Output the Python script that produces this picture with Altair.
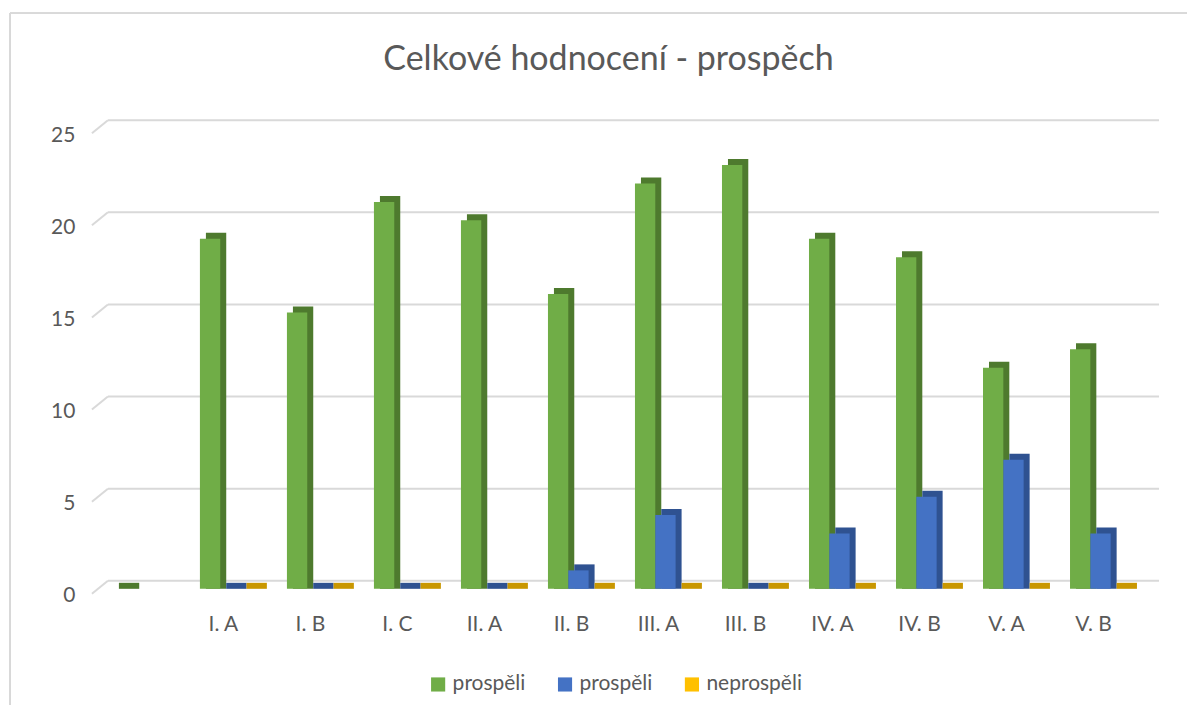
import altair as alt
import pandas as pd

# ---- data ----
categories = ["", "I. A", "I. B", "I. C", "II. A", "II. B", "III. A", "III. B",
              "IV. A", "IV. B", "V. A", "V. B"]
series_keys = ["prospěli", "prospěli (2)", "neprospěli"]
prospeli = [0, 19, 15, 21, 20, 16, 22, 23, 19, 18, 12, 13]
prospeli_2 = [None, 0, 0, 0, 0, 1, 4, 0, 3, 5, 7, 3]
neprospeli = [None, 0, 0, 0, 0, 0, 0, 0, 0, 0, 0, 0]
y_ticks = [0, 5, 10, 15, 20, 25]
title_text = "Celkové hodnocení - prospěch"

front_colors = ["#70ad47", "#4472c4", "#ffc000"]
dark_colors = ["#4e7a2e", "#2f5291", "#c99700"]

rows = []
for key, vals in zip(series_keys, [prospeli, prospeli_2, neprospeli]):
    for c, v in zip(categories, vals):
        if v is not None:
            rows.append({"cat": c, "series": key, "value": v})
df = pd.DataFrame(rows)
grid_df = pd.DataFrame({"v": y_ticks})
title_df = pd.DataFrame({"t": [title_text]})

W, H = 1045, 461
FONT = "Lato"
TXT = "#595959"
FS = 21

yscale = alt.Scale(domain=[0, 25], nice=False, zero=True)
yaxis = alt.Axis(title=None, values=y_ticks, grid=False, domain=False,
                 ticks=False, tickSize=0, labelPadding=18, labelOffset=7,
                 labelFontSize=FS, labelColor=TXT, labelFont=FONT)
xenc = alt.X("cat:N", sort=categories,
             scale=alt.Scale(domain=categories, paddingInner=0, paddingOuter=0),
             axis=alt.Axis(title=None, domain=False, ticks=False, tickSize=0,
                           labelAngle=0, labelPadding=25, labelFontSize=FS,
                           labelColor=TXT, labelFont=FONT))

# frame lines (decoration)
frame_top = alt.Chart(grid_df).mark_rule(color="#d9d9d9", strokeWidth=1.5).encode(
    x=alt.value(-83), x2=alt.value(1110), y=alt.value(-115))
frame_left = alt.Chart(grid_df).mark_rule(color="#d9d9d9", strokeWidth=1.5).encode(
    x=alt.value(-83), y=alt.value(-115), y2=alt.value(H + 130))

title = alt.Chart(title_df).mark_text(fontSize=34, font=FONT, color=TXT,
                                      baseline="alphabetic", align="center").encode(
    text="t:N", x=alt.value(516), y=alt.value(-58))

grid = alt.Chart(grid_df).mark_rule(color="#d9d9d9", strokeWidth=2, yOffset=-8).encode(
    y=alt.Y("v:Q", scale=yscale, axis=yaxis),
    x=alt.value(15), x2=alt.value(1067))
stubs = alt.Chart(grid_df).mark_rule(color="#d9d9d9", strokeWidth=2,
                                      yOffset=5, y2Offset=-8).encode(
    y=alt.Y("v:Q", scale=yscale, axis=yaxis), y2="v:Q",
    x=alt.value(-1), x2=alt.value(15))

dark = alt.Chart(df).mark_bar(yOffset=-6, y2Offset=0.01).encode(
    x=xenc,
    xOffset=alt.XOffset("series:N", sort=series_keys,
                        scale=alt.Scale(domain=series_keys, range=[26, 87],
                                        paddingInner=0, paddingOuter=0)),
    y=alt.Y("value:Q", scale=yscale, axis=yaxis),
    y2=alt.datum(0),
    color=alt.Color("series:N", scale=alt.Scale(domain=series_keys, range=dark_colors),
                    legend=None))

front = alt.Chart(df).mark_bar().encode(
    x=xenc,
    xOffset=alt.XOffset("series:N", sort=series_keys,
                        scale=alt.Scale(domain=series_keys, range=[20, 81],
                                        paddingInner=0, paddingOuter=0)),
    y=alt.Y("value:Q", scale=yscale, axis=yaxis),
    color=alt.Color("series:N",
                    scale=alt.Scale(domain=series_keys, range=front_colors),
                    legend=alt.Legend(title=None, orient="none", legendX=335,
                                      legendY=546, direction="horizontal",
                                      symbolType="square", symbolSize=200,
                                      symbolStrokeWidth=0, labelFontSize=FS,
                                      labelColor=TXT, labelFont=FONT,
                                      columnPadding=29, labelOffset=4,
                                      labelExpr="replace(datum.label, ' (2)', '')")))

chart = alt.layer(frame_top, frame_left, title, grid, stubs, dark, front).resolve_scale(
    color="independent", xOffset="independent"
).properties(
    width=W, height=H,
    autosize=alt.AutoSizeParams(type="none"),
    padding={"left": 85, "top": 120, "right": 50, "bottom": 116},
).configure(background="white", view=alt.ViewConfig(stroke=None))

chart.save("out.html", embed_options={"renderer": "svg", "actions": False})
